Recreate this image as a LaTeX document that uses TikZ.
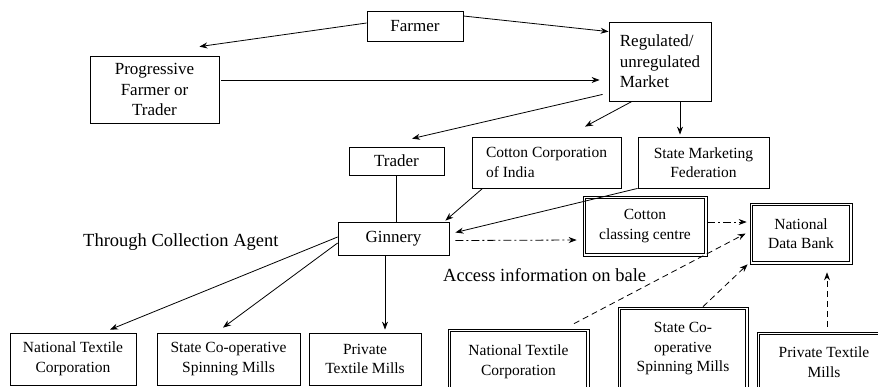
\documentclass[tikz,border=0pt]{standalone}
\usepackage{fontspec}
\setmainfont{Liberation Serif}
\newfontfamily\tnr{Liberation Serif}
\usetikzlibrary{arrows.meta,calc}
\begin{document}
\begin{tikzpicture}[x=1pt,y=-1pt,
  box/.style={draw, line width=0.8pt, inner sep=0pt, align=center, font=\tnr\fontsize{15.5}{19.5}\selectfont},
  bigbox/.style={box, font=\tnr\fontsize{17}{20.5}\selectfont},
  dbox/.style={box, line width=0.7pt},
  inner/.style={line width=1.1pt},
  arr/.style={line width=0.8pt, -{Stealth[length=8pt,width=6pt]}},
  plain/.style={line width=0.8pt},
  dashdot/.style={arr, dash pattern=on 8pt off 3pt on 2pt off 3pt},
  dsh/.style={arr, dash pattern=on 6pt off 4pt},
  lbl/.style={anchor=west, inner sep=0pt, font=\tnr\fontsize{18.5}{22}\selectfont}]
\useasboundingbox (0,0) rectangle (878,386);
\clip (0,0) rectangle (878,386);

\node[bigbox, minimum width=96pt, minimum height=30pt] (farmer) at (415,26) {Farmer};
\node[bigbox, minimum width=129pt, minimum height=67pt] (prog) at (154.5,89.5) {Progressive\\Farmer or\\Trader};
\node[bigbox, align=left, minimum width=102pt, minimum height=79pt] (market) at (660,61.5) {Regulated/\\unregulated\\Market};
\node[bigbox, minimum width=95pt, minimum height=28pt] (trader) at (396.5,161) {Trader};
\node[box, align=left, minimum width=149pt, minimum height=51pt] (cci) at (546.5,162.5) {Cotton Corporation\\of India};
\node[box, minimum width=131pt, minimum height=51pt] (smf) at (703.5,162.5) {State Marketing\\Federation};
\node[bigbox, minimum width=111pt, minimum height=33pt] (gin) at (393.5,238.5) {Ginnery};
\node[dbox, minimum width=124pt, minimum height=60pt] (ccc) at (645,226) {Cotton\\classing centre};
\node[dbox, minimum width=102pt, minimum height=61pt] (ndb) at (801,233.5) {National\\Data Bank};

\node[box, minimum width=126pt, minimum height=52pt] (ntc) at (73,359) {National Textile\\Corporation};
\node[box, minimum width=143pt, minimum height=52pt] (scs) at (228.5,359) {State Co-operative\\Spinning Mills};
\node[box, minimum width=112pt, minimum height=52pt] (ptm) at (365,359) {Private\\Textile Mills};

\node[dbox, minimum width=141pt, minimum height=66pt] (ntc2) at (518.5,362) {National Textile\\Corporation};
\node[dbox, minimum width=130pt, minimum height=84pt] (scs2) at (683,349) {State Co-\\operative\\Spinning Mills};
\node[dbox, minimum width=134pt, minimum height=60pt] (ptm2) at (824,362) {Private Textile\\Mills};

\foreach \n in {ccc,ndb,ntc2,scs2,ptm2}
  \draw[inner] ($(\n.north west)+(3.2,3.2)$) rectangle ($(\n.south east)+(-3.2,-3.2)$);

\node[lbl] (through) at (83,242) {Through Collection Agent};
\node[lbl] (access) at (443,275) {Access information on bale};

% connectors
\draw[arr] ($(farmer.west)+(0,-3)$) -- ($(prog.north east)+(-20,-9)$);
\draw[arr] ($(farmer.east)+(0,-10)$) -- ($(market.north west)+(0,10)$);
\draw[arr] ($(prog.east)+(2,-9.5)$) -- ($(market.west)+(-9,18.5)$);
\draw[arr] ($(market.south west)+(-6,-7)$) -- ($(trader.north)+(15.5,-8)$);
\draw[arr] ($(market.south)+(-28,0)$) -- ($(cci.north)+(38.5,-10)$);
\draw[arr] ($(market.south)+(20,0)$) -- ($(smf.north)+(-23.5,-2)$);
\draw[plain] ($(trader.south)+(-0.5,0)$) -- ($(gin.north)+(2.5,0)$);
\draw[arr] ($(cci.south west)+(11,0)$) -- ($(gin.north east)+(-4,-1)$);
\draw[arr] (smf.south west) -- ($(gin.east)+(6,-6)$);
\draw[dashdot] ($(gin.east)+(6,2)$) -- ($(ccc.west)+(-6,14)$);
\draw[dashdot] ($(ccc.east)+(0,-4)$) -- ($(ndb.west)+(-3,-11.5)$);
\draw[dsh] ($(ntc2.north)+(55.5,-5)$) -- ($(ndb.west)+(-4,0)$);
\draw[dsh] ($(scs2.north)+(20,0)$) -- ($(ndb.south west)+(-2,0)$);
\draw[dsh] ($(ptm2.north)+(3,-5)$) -- ($(ndb.south)+(26,8)$);
\draw[arr] ($(gin.west)+(0,-1.5)$) -- ($(ntc.north)+(37,-3)$);
\draw[arr] ($(gin.west)+(0,4.5)$) -- ($(scs.north)+(-5.5,-5)$);
\draw[arr] ($(gin.south)+(-8.5,0)$) -- ($(ptm.north)+(20,-3)$);
\end{tikzpicture}
\end{document}
